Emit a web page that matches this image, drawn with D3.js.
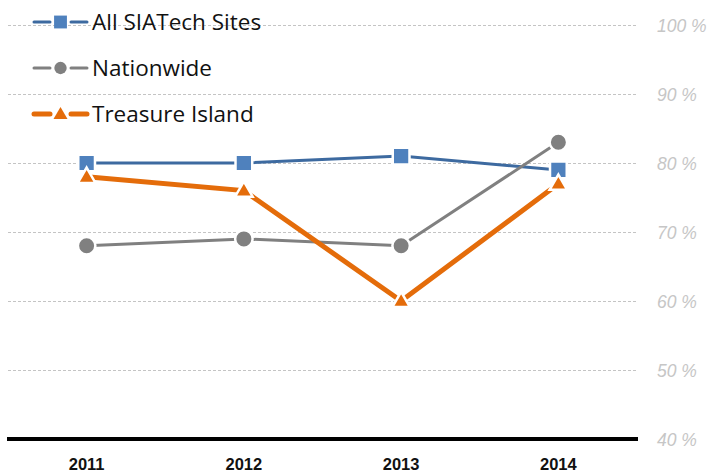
<!DOCTYPE html>
<html>
<head>
<meta charset="utf-8">
<script src="https://cdn.jsdelivr.net/npm/d3@7"></script>
<style>
  body { margin: 0; background: #fff; }
  svg { display: block; }
</style>
</head>
<body>
<div id="chart"></div>
<script>
// chart values
const years = ["2011", "2012", "2013", "2014"];
const allSites = [80, 80, 81, 79];
const nationwide = [68, 69, 68, 83];
const treasureIsland = [78, 76, 60, 77];
const yTicks = [40, 50, 60, 70, 80, 90, 100];

const width = 707, height = 476;
const svg = d3.select("#chart").append("svg")
    .attr("width", width)
    .attr("height", height);

const x = d3.scaleBand().domain(years).range([8, 637]);
const y = d3.scaleLinear().domain([40, 100]).range([439, 25]);

// gridlines
svg.selectAll(".grid")
    .data(yTicks.filter(d => d > 40))
    .enter()
    .append("line")
        .attr("x1", 8)
        .attr("x2", 637)
        .attr("y1", d => y(d) + 0.5)
        .attr("y2", d => y(d) + 0.5)
        .attr("stroke", "#c4c4c4")
        .attr("stroke-width", 1)
        .attr("stroke-dasharray", "3,2");

// right tick labels
svg.selectAll(".ytick")
    .data(yTicks)
    .enter()
    .append("text")
        .attr("x", 657)
        .attr("y", d => y(d) + 6.5)
        .attr("font-family", "Liberation Sans, Arial, sans-serif")
        .attr("font-style", "italic")
        .attr("font-size", "17.5px")
        .attr("fill", "#c6c6c6")
        .text(d => d + " %");

// baseline
svg.append("line")
    .attr("x1", 7).attr("x2", 638)
    .attr("y1", y(40)).attr("y2", y(40))
    .attr("stroke", "#000")
    .attr("stroke-width", 4);

// year labels
svg.selectAll(".xtick")
    .data(years)
    .enter()
    .append("text")
        .attr("x", d => x(d) + x.bandwidth() / 2)
        .attr("y", 470)
        .attr("text-anchor", "middle")
        .attr("font-family", "Liberation Sans, Arial, sans-serif")
        .attr("font-weight", "bold")
        .attr("font-size", "16.5px")
        .attr("fill", "#111")
        .text(d => d);

const series = [
    { name: "All SIATech Sites", values: allSites, line: "#3d6aa0", fill: "#4f81bd", width: 3, shape: "square" },
    { name: "Nationwide", values: nationwide, line: "#808080", fill: "#808080", width: 3, shape: "circle" },
    { name: "Treasure Island", values: treasureIsland, line: "#e46c0a", fill: "#e46c0a", width: 5, shape: "triangle" }
];

const symbolType = { square: d3.symbolSquare, circle: d3.symbolCircle, triangle: d3.symbolTriangle };
const symbolSize = { square: 280, circle: 240, triangle: 135 };
const legendSize = { square: 165, circle: 120, triangle: 85 };

const line = d3.line()
    .x((d, i) => x(years[i]) + x.bandwidth() / 2)
    .y(d => y(d));

series.forEach(function(s) {
    const g = svg.append("g");
    g.append("path")
        .datum(s.values)
        .attr("d", line)
        .attr("fill", "none")
        .attr("stroke", s.line)
        .attr("stroke-width", s.width);
    g.selectAll("path.mk")
        .data(s.values)
        .enter()
        .append("path")
            .attr("class", "mk")
            .attr("transform", (d, i) => "translate(" + (x(years[i]) + x.bandwidth() / 2) + "," + (y(d) + (s.shape === "triangle" ? 1 : 0)) + ")")
            .attr("d", d3.symbol().type(symbolType[s.shape]).size(symbolSize[s.shape]))
            .attr("fill", s.fill)
            .attr("stroke", "#fff")
            .attr("stroke-width", 2.5);
});

// legend
const legendY = [22, 68, 114];
series.forEach(function(s, i) {
    const g = svg.append("g").attr("transform", "translate(0," + legendY[i] + ")");
    g.append("line").attr("x1", 34).attr("x2", 50).attr("y1", 0).attr("y2", 0)
        .attr("stroke", s.line).attr("stroke-width", s.width).attr("stroke-linecap", "round");
    g.append("line").attr("x1", 71).attr("x2", 87).attr("y1", 0).attr("y2", 0)
        .attr("stroke", s.line).attr("stroke-width", s.width).attr("stroke-linecap", "round");
    g.append("path")
        .attr("transform", "translate(60.5," + (s.shape === "triangle" ? 1 : 0) + ")")
        .attr("d", d3.symbol().type(symbolType[s.shape]).size(legendSize[s.shape]))
        .attr("fill", s.fill);
    g.append("text")
        .attr("x", 92)
        .attr("y", 8)
        .attr("font-family", "Open Sans, sans-serif")
        .attr("font-size", "22.5px")
        .attr("fill", "#111")
        .text(s.name);
});
</script>
</body>
</html>
